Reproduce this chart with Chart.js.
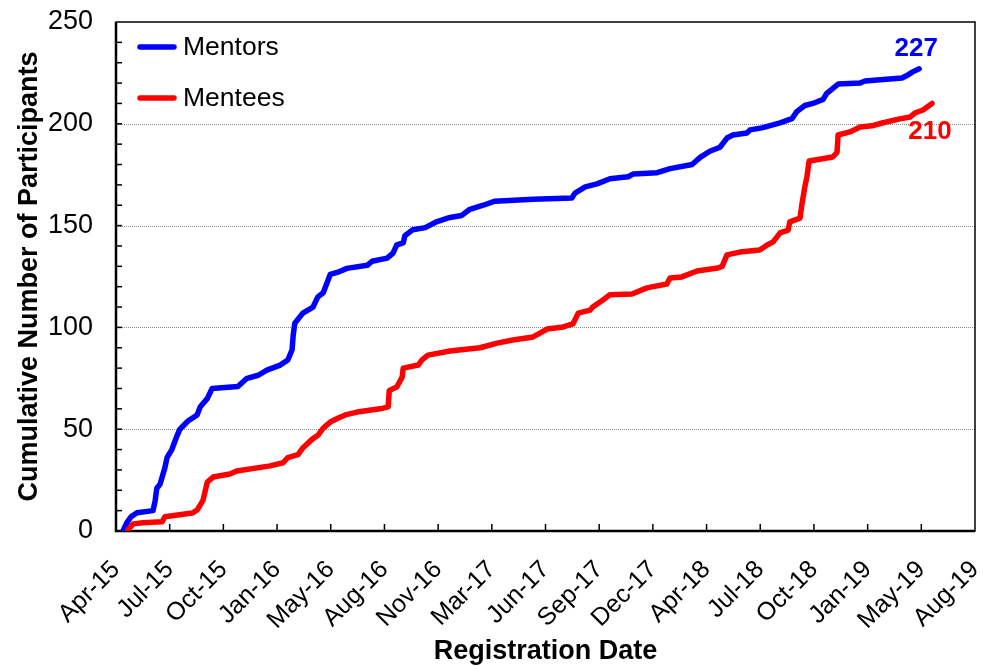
<!DOCTYPE html>
<html><head><meta charset="utf-8">
<script src="https://cdn.jsdelivr.net/npm/chart.js@4.4.1/dist/chart.umd.min.js"></script>
<style>html,body{margin:0;padding:0;background:#fff}canvas{display:block}</style>
</head><body>
<canvas id="c" width="995" height="666" style="width:995px;height:666px"></canvas>
<script>
// x values: days since 1 Apr 2015
const xTickLabels = ['Apr-15','Jul-15','Oct-15','Jan-16','May-16','Aug-16','Nov-16','Mar-17','Jun-17','Sep-17','Dec-17','Apr-18','Jul-18','Oct-18','Jan-19','May-19','Aug-19'];
const seriesNames = ['Mentors','Mentees'];
const finalLabels = ['227','210'];
const mentorDays = [13,20,28,39,69,73,76,82,91,95,104,114,119,134,151,157,170,179,227,244,265,281,306,320,328,330,333,348,367,376,386,399,412,430,468,477,505,516,523,535,538,553,576,598,622,644,659,684,706,777,849,855,874,896,920,954,963,1008,1032,1073,1088,1106,1125,1138,1149,1175,1181,1203,1237,1259,1268,1283,1298,1317,1324,1345,1386,1395,1464,1475,1484,1496];
const mentorCounts = [0,4,7,9,10,15,21,23,31,36,40,47,50,54,57,61,65,70,71,75,76.5,79,81.5,84,89,96,102,107,110,115,117,126,127,129,130.5,132.5,134,136.5,140.5,141.5,145,148,149,152,154,155,158,160,162,163,163.5,166,169,170.5,173,174,175.3,176,178,180,183.5,186.5,188.5,193,194.5,195.5,197,198,200.5,202.5,206,209,210,212,215,219.5,220,221,222.5,224,225.5,227];
const menteeDays = [22,32,50,86,91,142,151,157,162,170,181,212,225,287,311,320,339,348,365,376,386,399,414,427,449,492,507,509,523,533,535,563,570,581,622,678,710,739,777,803,833,851,861,883,888,907,920,961,989,1026,1032,1054,1082,1121,1129,1138,1162,1199,1213,1224,1237,1252,1255,1274,1278,1283,1287,1291,1335,1343,1345,1367,1386,1408,1427,1460,1479,1488,1503,1520];
const menteeCounts = [0.5,3.5,4,4.5,7,8.8,10.3,12.8,15,24,26.5,28,29.5,32,33.5,36,37.5,40.8,45,47,50.5,53.5,55.5,57,58.4,60,61,69,70.7,75.6,80,81.5,84,86.4,88.4,90,92.3,93.8,95.3,99.2,100.2,101.7,107,108.5,110,113.5,116,116.4,119.4,121.3,124.3,124.8,127.7,129.2,130,135.6,137,138,140.5,142,146.4,147.8,151.8,153.7,161,169,174,181.7,183.7,186,194.5,196,198.4,199,200.4,202.4,203.3,205.3,206.8,210];

const FONT = "'Liberation Sans', Arial, sans-serif";
const colors = ['#0000FF','#FF0000'];

const deco = {
  id: 'deco',
  beforeDatasetsDraw(chart) {
    const {ctx, chartArea: a, scales: {x, y}} = chart;
    ctx.save();
    ctx.strokeStyle = '#8c8c8c'; ctx.lineWidth = 1; ctx.setLineDash([1, 1]);
    for (const v of [50, 100, 150, 200]) {
      const py = Math.round(y.getPixelForValue(v)) + 0.5;
      ctx.beginPath(); ctx.moveTo(a.left, py); ctx.lineTo(a.right, py); ctx.stroke();
    }
    ctx.setLineDash([]);
    ctx.strokeStyle = '#000'; ctx.lineWidth = 1.5;
    for (let v = 10; v < 250; v += 10) {
      const py = y.getPixelForValue(v);
      ctx.beginPath(); ctx.moveTo(a.left, py); ctx.lineTo(a.left + 6, py); ctx.stroke();
    }
    for (let d = 100; d < 1600; d += 100) {
      const px = x.getPixelForValue(d);
      ctx.beginPath(); ctx.moveTo(px, a.bottom); ctx.lineTo(px, a.bottom - 7); ctx.stroke();
    }
    ctx.lineWidth = 1.5;
    ctx.strokeRect(a.left, a.top, a.right - a.left, a.bottom - a.top);
    ctx.lineWidth = 2.5;
    ctx.beginPath(); ctx.moveTo(a.left, a.top); ctx.lineTo(a.left, a.bottom); ctx.lineTo(a.right, a.bottom); ctx.stroke();
    ctx.restore();
  },
  afterDatasetsDraw(chart) {
    const {ctx, chartArea: a} = chart;
    ctx.save();
    // legend
    const ly = [47, 98];
    ctx.font = `26.5px ${FONT}`;
    ctx.textBaseline = 'middle'; ctx.textAlign = 'left';
    seriesNames.forEach((n, i) => {
      ctx.strokeStyle = colors[i]; ctx.lineWidth = 5.5; ctx.lineCap = 'round';
      ctx.beginPath(); ctx.moveTo(a.left + 24, ly[i]); ctx.lineTo(a.left + 58, ly[i]); ctx.stroke();
      ctx.fillStyle = '#000';
      ctx.fillText(n, a.left + 67, ly[i] + 1);
    });
    // end labels
    ctx.font = `bold 26px ${FONT}`;
    ctx.textAlign = 'center'; ctx.textBaseline = 'alphabetic';
    const offs = [[-3, -13], [-2, 36]];
    chart.data.datasets.forEach((ds, i) => {
      const meta = chart.getDatasetMeta(i);
      const last = meta.data[meta.data.length - 1];
      ctx.fillStyle = colors[i];
      ctx.fillText(finalLabels[i], last.x + offs[i][0], last.y + offs[i][1]);
    });
    ctx.restore();
  }
};

new Chart(document.getElementById('c'), {
  type: 'line',
  data: {
    datasets: [
      {label: seriesNames[0], data: mentorDays.map((d, i) => ({x: d, y: mentorCounts[i]})), borderColor: colors[0], order: 1},
      {label: seriesNames[1], data: menteeDays.map((d, i) => ({x: d, y: menteeCounts[i]})), borderColor: colors[1], order: 0}
    ].map(ds => Object.assign(ds, {borderWidth: 5.5, pointRadius: 0, tension: 0, fill: false, borderCapStyle: 'round', borderJoinStyle: 'round'}))
  },
  options: {
    responsive: false, devicePixelRatio: 1, animation: false,
    layout: {padding: {top: 22, right: 20, left: 0, bottom: 0}},
    plugins: {legend: {display: false}, tooltip: {enabled: false}},
    scales: {
      x: {
        type: 'linear', min: 0, max: 1600,
        grid: {display: false, drawTicks: false}, border: {display: false},
        ticks: {stepSize: 100, autoSkip: false, maxRotation: 45, minRotation: 45, padding: 24, color: '#000',
          font: {family: FONT, size: 25},
          callback: (v) => xTickLabels[Math.round(v / 100)]},
        title: {display: true, text: 'Registration Date', color: '#000', font: {family: FONT, size: 27, weight: 'bold', lineHeight: 1}, padding: {top: 0, bottom: 1}},
        afterFit: (s) => { s.height = 135; s.paddingLeft = 0; s.paddingRight = 0; }
      },
      y: {
        type: 'linear', min: 0, max: 250,
        grid: {display: false, drawTicks: false}, border: {display: false},
        ticks: {stepSize: 50, padding: 23, color: '#000', font: {family: FONT, size: 27}},
        title: {display: true, text: 'Cumulative Number of Participants', color: '#000', font: {family: FONT, size: 27, weight: 'bold', lineHeight: 1}, padding: {top: 16, bottom: 0}},
        afterFit: (s) => { s.width = 116; s.paddingTop = 0; s.paddingBottom = 0; }
      }
    }
  },
  plugins: [deco]
});
</script>
</body></html>
